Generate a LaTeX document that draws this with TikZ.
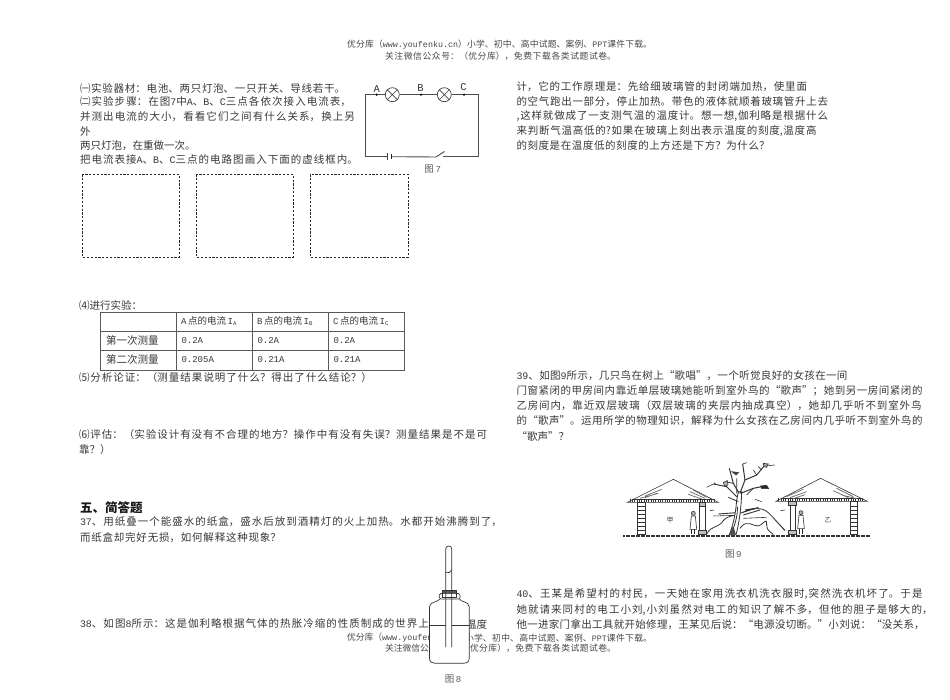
\documentclass[tikz,border=0pt]{standalone}
\usepackage{fontspec}
\setmainfont{Noto Sans CJK SC}
\newfontfamily\latf[Scale=0.95]{Liberation Mono}
\newcommand{\lt}[1]{{\latf #1}}
\XeTeXlinebreaklocale "zh"
\XeTeXlinebreakskip=0pt plus 30pt
\tikzset{
 x=1pt,y=-1pt,
 txt/.style={anchor=west,inner sep=0pt,outer sep=0pt,text=black!78,font=\fontsize{10.5}{12}\selectfont},
 wmark/.style={anchor=west,inner sep=0pt,outer sep=0pt,text=black!72,font=\fontsize{8.8}{10}\selectfont},
 wmarkr/.style={wmark,anchor=east},
 figcap/.style={anchor=center,inner sep=0pt,text=black!65,font=\fontsize{9.5}{11}\selectfont},
 wire/.style={draw=black!70,line width=0.9pt},
 lamp/.style={circle,draw=black!75,line width=0.7pt,minimum size=14pt,inner sep=0pt,fill=white},
 wdot/.style={circle,fill=black,inner sep=0pt,minimum size=2.4pt},
 dbox/.style={draw=black!85,line width=0.6pt,dash pattern=on 2.2pt off 1.6pt},
 tline/.style={draw=black!65,line width=0.8pt},
 ink/.style={draw=black!80,line width=0.6pt},
 thickink/.style={draw=black!85,line width=1pt},
 glass/.style={draw=black!80,line width=0.7pt},
 tabtxt/.style={txt,font=\fontsize{9.5}{11}\selectfont},
}
% one line justified to the width it has in the reference
\newcommand{\spr}[2]{\parbox{#1pt}{\parindent=0pt\parfillskip=0pt\linepenalty=5000\tolerance=10000\hbadness=10000 #2}}
\newcommand{\tl}[5]{\node[txt] (#1) at (#2,#3) {\spr{#4}{#5}};}
\newcommand{\tn}[4]{\node[txt] (#1) at (#2,#3) {#4};}
\newcommand{\sbs}[1]{\raisebox{-1pt}{\fontsize{6}{6}\selectfont\lt{#1}}}
\begin{document}
\begin{tikzpicture}
\useasboundingbox[fill=white] (0,0) rectangle (950,700);
% watermark top
\node[wmark] (wm1) at (347,44.5) {\spr{305}{优分库（\lt{www.youfenku.cn}）小学、初中、高中试题、案例、\lt{PPT}课件下载。}};
\node[wmark] (wm2) at (385,56) {\spr{231}{关注微信公众号：（优分库），免费下载各类试题试卷。}};
% left column
\tl{a1}{80}{88}{265}{㈠实验器材：电池、两只灯泡、一只开关、导线若干。}
\tl{a2}{80}{101.5}{271}{㈡实验步骤：在图\lt{7}中\lt{A}、\lt{B}、\lt{C}三点各依次接入电流表，}
\tl{a3}{80}{117}{275}{并测出电流的大小，看看它们之间有什么关系，换上另}
\tn{a4}{80}{131.5}{外}
\tn{a5}{80}{145.5}{两只灯泡，在重做一次。}
\tl{a6}{80}{160}{278}{把电流表接\lt{A}、\lt{B}、\lt{C}三点的电路图画入下面的虚线框内。}
% dashed boxes
\draw[dbox] (82,174.5) rectangle (179,257);
\draw[dbox] (196,174.5) rectangle (293,257);
\draw[dbox] (310,174.5) rectangle (408,257);
% circuit
\coordinate (c1) at (365,94.7);
\coordinate (c2) at (478.7,94.7);
\coordinate (c3) at (478.7,156.7);
\coordinate (c4) at (365,156.7);
\node[lamp] (L1) at (392.3,94.7) {};
\node[lamp] (L2) at (444.3,94.7) {};
\coordinate (b1) at (387,156.7);
\coordinate (b2) at (391.5,156.7);
\coordinate (s1) at (436,157);
\coordinate (s2) at (443.3,156.7);
\coordinate (s3) at (444.5,151.5);
\draw[wire] (L1) -- (L2);
\draw[wire] (L2) -- (c2) -- (c3) -- (s2);
\draw[wire] (L1) -- (c1) -- (c4) -- (b1);
\draw[wire] (b2) -- (s1) -- (s3);
\draw[draw=black!75,line width=0.6pt] (387,153) -- (387,160.4);
\draw[draw=black!85,line width=1.2pt] (391.5,154.5) -- (391.5,159);
\foreach \q in {L1,L2}{
 \draw[draw=black!75,line width=0.6pt] (\q.north west) -- (\q.south east) (\q.north east) -- (\q.south west);}
\node[wdot] (dA) at (376.7,94.7) {};
\node[wdot] (dB) at (421,94.7) {};
\node[wdot] (dC) at (464,94.7) {};
\node[figcap,text=black!80,font=\fontsize{11}{12}\selectfont] (lA) at (376.7,89) {\lt{A}};
\node[figcap,text=black!80,font=\fontsize{11}{12}\selectfont] (lB) at (420.5,88) {\lt{B}};
\node[figcap,text=black!80,font=\fontsize{11}{12}\selectfont] (lC) at (463.5,87.5) {\lt{C}};
\node[figcap] (f7) at (432.7,169) {图\,\lt{7}};
% table
\tn{t0}{79}{305}{⑷进行实验：}
\draw[tline] (100.7,312) rectangle (404.3,370);
\draw[tline] (100.7,331) -- (404.3,331) (100.7,350.7) -- (404.3,350.7);
\draw[tline] (176.7,312) -- (176.7,370) (252.7,312) -- (252.7,370) (328.7,312) -- (328.7,370);
\node[tabtxt] (h1) at (181,321) {\lt{A}\,点的电流\,\lt{I}\sbs{A}};
\node[tabtxt] (h2) at (257,321) {\lt{B}\,点的电流\,\lt{I}\sbs{B}};
\node[tabtxt] (h3) at (333,321) {\lt{C}\,点的电流\,\lt{I}\sbs{C}};
\tn{r1}{106}{340.5}{第一次测量}
\tn{r2}{106}{359.5}{第二次测量}
\node[tabtxt] (v11) at (181.5,340.5) {\lt{0.2A}};
\node[tabtxt] (v12) at (257.5,340.5) {\lt{0.2A}};
\node[tabtxt] (v13) at (333.5,340.5) {\lt{0.2A}};
\node[tabtxt] (v21) at (181.5,359.5) {\lt{0.205A}};
\node[tabtxt] (v22) at (257.5,359.5) {\lt{0.21A}};
\node[tabtxt] (v23) at (333.5,359.5) {\lt{0.21A}};
\tl{a7}{79}{377.5}{293}{⑸分析论证：（测量结果说明了什么？得出了什么结论？）}
\tl{a8}{79}{435}{408}{⑹评估：（实验设计有没有不合理的地方？操作中有没有失误？测量结果是不是可}
\tn{a9}{79}{450}{靠？）}
\node[txt,text=black!90,font=\fontsize{12.5}{13}\selectfont\bfseries] (q5) at (80,508) {五、简答题};
\tl{a10}{80}{522}{422}{\lt{37}、用纸叠一个能盛水的纸盒，盛水后放到酒精灯的火上加热。水都开始沸腾到了，}
\tl{a11}{80}{537.5}{201}{而纸盒却完好无损，如何解释这种现象？}
\tl{a12}{80}{624}{349}{\lt{38}、如图\lt{8}所示：这是伽利略根据气体的热胀冷缩的性质制成的世界上}
\node[txt,anchor=east] (a13) at (487,624) {温度};
% bottom watermark
\node[wmark] (wm3) at (347,637.7) {优分库（\lt{www.youfen}};
\node[wmarkr] (wm4) at (652,637.7) {\spr{187}{小学、初中、高中试题、案例、\lt{PPT}课件下载。}};
\node[wmark] (wm5) at (385,648.5) {关注微信公};
\node[wmarkr] (wm6) at (616,648.5) {\spr{146}{优分库），免费下载各类试题试卷。}};
% bottle
\fill[white] (429.3,606) -- (434,603) -- (439.5,600) -- (459.5,600) -- (465,603) -- (469.3,606) -- (469.3,659) -- (465,663.3) -- (434,663.3) -- (429.3,659) -- cycle;
\draw[glass] (439.8,599) .. controls (439,602) and (430,601) .. (429.4,607) -- (429.4,658) .. controls (429.5,662) and (432,663.2) .. (435,663.3) -- (463,663.3) .. controls (467,663.2) and (469.2,662) .. (469.3,658) -- (469.3,607) .. controls (469,601) and (460,602) .. (459.5,599);
\draw[glass,rounded corners=1.5pt] (439.3,593.5) rectangle (460,599);
\fill[black!65] (442,590.8) rectangle (456.5,593.5);
\draw[glass] (442,590.8) rectangle (456.5,597);
\draw[glass] (445.7,647) -- (445.7,549) .. controls (445.7,545) and (451.7,545) .. (451.7,549) -- (451.7,647);
\draw[glass] (445.7,572.2) .. controls (448,573) and (451,573) .. (451.7,570);
\draw[glass] (429.4,625.7) -- (445.7,625.7) (451.7,625.7) -- (469.3,625.7);
\node[figcap] (f8) at (453,679) {图\,\lt{8}};
% right column
\tl{b1t}{516.5}{86.7}{290.5}{计，它的工作原理是：先给细玻璃管的封闭端加热，使里面}
\tl{b2t}{516.5}{101.7}{311.5}{的空气跑出一部分，停止加热。带色的液体就顺着玻璃管升上去}
\tl{b3t}{516.5}{116.5}{311.5}{,这样就做成了一支测气温的温度计。想一想,伽利略是根据什么}
\tl{b4t}{516.5}{131}{300}{来判断气温高低的?如果在玻璃上刻出表示温度的刻度,温度高}
\tl{b5t}{516.5}{146}{253}{的刻度是在温度低的刻度的上方还是下方？为什么？}
\tl{b6t}{516.5}{376}{331}{\lt{39}、如图\lt{9}所示，几只鸟在树上“歌唱”，一个听觉良好的女孩在一间}
\tl{b7t}{516.5}{391}{406}{门窗紧闭的甲房间内靠近单层玻璃她能听到室外鸟的“歌声”；她到另一房间紧闭的}
\tl{b8t}{516.5}{406}{405}{乙房间内，靠近双层玻璃（双层玻璃的夹层内抽成真空），她却几乎听不到室外鸟}
\tl{b9t}{516.5}{420.7}{406}{的“歌声”。运用所学的物理知识，解释为什么女孩在乙房间内几乎听不到室外鸟的}
\tn{b10t}{516.5}{436}{“歌声”？}
% figure 9: coordinates in the 3x crop frame
\begin{scope}[shift={(590,460)},x=0.3333pt,y=-0.3333pt]
 % ground
 \draw[ink,dash pattern=on 2pt off 0.5pt,line width=1.1pt] (100,228) -- (840,228);
 % left house
 \draw[ink] (112,127) -- (250,58) -- (385,127) -- cycle;
 \draw[ink] (125,118) -- (372,118);
 \foreach \x in {120,127,...,376}{\draw[ink,line width=0.7pt] (\x,118) -- (\x,127);}
 \draw[ink,line width=0.8pt] (143,127) rectangle (165,222);
 \foreach \y in {140,152,...,212}{\draw[ink,line width=0.6pt] (143,\y) -- (165,\y);}
 \draw[ink] (328,127) -- (328,210) (345,127) -- (345,210);
 \draw[ink,fill=black!25] (324,210) rectangle (349,222);
 \draw[ink,fill=black!25] (328,127) rectangle (345,138);
 \draw[ink,draw=black!60,line width=0.7pt] (150,115) -- (205,100) (165,108) -- (215,88) (165,113) -- (200,100) (300,95) -- (345,115) (310,90) -- (350,112) (295,103) -- (335,117);
 \node[figcap,text=black!80,font=\fontsize{6.5}{7}\selectfont] (jia) at (240,181) {甲};
 % left girl
 \draw[ink,fill=black!30] (310,160) circle[radius=6];
 \draw[ink] (304,168) -- (316,168) -- (320,208) -- (300,208) -- cycle;
 \draw[thickink] (306,208) -- (306,223) (314,208) -- (314,223);
 % right house
 \draw[ink] (558,124) -- (692,55) -- (832,124) -- cycle;
 \draw[ink] (572,115) -- (818,115);
 \foreach \x in {566,573,...,824}{\draw[ink,line width=0.7pt] (\x,115) -- (\x,124);}
 \draw[ink] (600,124) -- (600,210) (617,124) -- (617,210);
 \draw[ink,fill=black!25] (596,210) rectangle (620,222);
 \draw[ink,fill=black!25] (596,124) rectangle (620,135);
 \draw[ink,line width=0.8pt] (780,124) rectangle (803,222);
 \foreach \y in {138,150,...,210}{\draw[ink,line width=0.6pt] (780,\y) -- (803,\y);}
 \draw[ink,draw=black!60,line width=0.7pt] (590,110) -- (640,88) (600,113) -- (650,95) (610,116) -- (645,104) (740,85) -- (790,110) (730,92) -- (775,113) (755,105) -- (800,116);
 \node[figcap,text=black!80,font=\fontsize{6.5}{7}\selectfont] (yi) at (714,181) {乙};
 % right girl
 \draw[ink,fill=black!30] (633,158) circle[radius=6];
 \draw[ink] (627,166) -- (639,166) -- (643,206) -- (623,206) -- cycle;
 \draw[thickink] (629,206) -- (629,223) (637,206) -- (637,223);
 % hills
 \draw[ink,line width=0.8pt] (350,222) .. controls (365,195) and (385,205) .. (400,182) .. controls (415,165) and (430,170) .. (450,160) .. controls (480,150) and (510,135) .. (535,158) .. controls (550,172) and (560,185) .. (585,212);
 \draw[ink,line width=0.8pt] (450,205) .. controls (470,175) and (490,200) .. (505,198) .. controls (525,190) and (530,170) .. (530,195) .. controls (530,215) and (545,215) .. (550,225);
 \draw[ink] (370,168) -- (440,166) (460,175) -- (530,172) (555,180) -- (585,210);
 \draw[ink,line width=0.9pt] (385,162) -- (440,158) (455,158) -- (505,142) (460,165) -- (510,150) (465,150) -- (495,145);
 \draw[ink] (360,152) -- (372,150) (572,152) -- (585,150) (495,118) -- (515,125);
 % tree trunk
 \draw[ink,line width=0.8pt,fill=white] (418,224) .. controls (432,190) and (438,150) .. (440,120) -- (445,95) -- (455,95) .. controls (455,130) and (448,190) .. (438,224) -- cycle;
 \fill[black!70] (418,224) -- (426,200) -- (432,205) -- (438,224) -- cycle;
 \draw[ink,line width=0.8pt] (442,140) .. controls (444,160) and (436,190) .. (430,205);
 % branches
 \draw[ink,line width=1pt] (447,100) -- (430,70) -- (418,25);
 \draw[ink,line width=1pt] (450,100) -- (465,60) -- (500,45) -- (525,15);
 \draw[ink,line width=1pt] (465,60) -- (458,12);
 \draw[ink,line width=1pt] (440,110) -- (410,80) -- (370,72);
 \draw[ink,line width=1pt] (452,100) -- (490,85) -- (515,80);
 \draw[ink,line width=0.8pt] (440,100) -- (440,55) (430,70) -- (405,65) (445,125) -- (415,112);
 \draw[ink] (370,72) -- (350,82) (378,74) -- (372,68) (500,45) -- (490,30) (515,30) -- (505,20) (458,12) -- (470,8);
 \draw[ink] (490,85) -- (470,105);
 % birds
 \draw[ink,fill=black!70] (426,35) -- (446,38) -- (438,45) -- cycle;
 \draw[ink,fill=black!40] (520,10) -- (535,12) -- (530,22) -- (522,20) -- cycle;
 \draw[ink] (535,17) -- (555,15);
 \draw[ink,fill=black!85] (512,78) -- (530,76) -- (536,86) -- (515,86) -- cycle;
 \draw[ink,fill=black!30] (400,68) -- (412,62) -- (414,75) -- (404,78) -- cycle;
 \node[figcap] (f9) at (430,282) {图\,\lt{9}};
\end{scope}
% bottom right text
\tl{c1t}{516.5}{594.5}{406}{\lt{40}、王某是希望村的村民，一天她在家用洗衣机洗衣服时,突然洗衣机坏了。于是}
\tl{c2t}{516.5}{610}{416}{她就请来同村的电工小刘,小刘虽然对电工的知识了解不多，但他的胆子是够大的，}
\tl{c3t}{516.5}{625}{408}{他一进家门拿出工具就开始修理，王某见后说：“电源没切断。”小刘说：“没关系，}
\end{tikzpicture}
\end{document}
